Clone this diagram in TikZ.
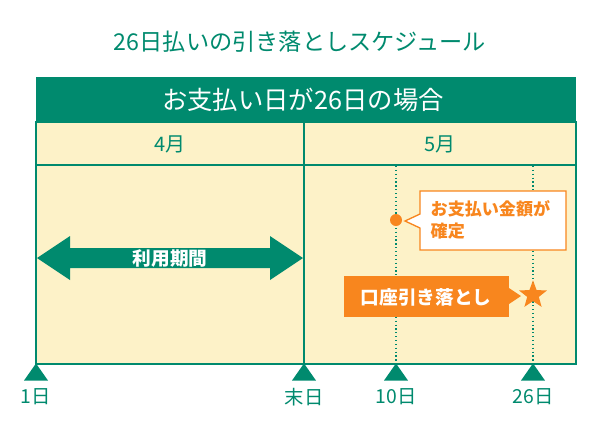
\documentclass[tikz,border=0pt]{standalone}
\usepackage{fontspec}
\setmainfont{Noto Sans CJK JP}
\usetikzlibrary{shapes.geometric,shapes.callouts}
\definecolor{teal}{HTML}{008A6E}
\definecolor{cream}{HTML}{FDF2C8}
\definecolor{orng}{HTML}{F8861E}
\begin{document}
\begin{tikzpicture}[x=0.75pt,y=-0.75pt,
  cell/.style={draw=teal,line width=1.3pt,fill=cream},
  tri/.style={fill=teal,isosceles triangle,shape border rotate=90,isosceles triangle apex angle=70,inner sep=0pt,minimum height=13pt,minimum width=13pt,anchor=south},
  daylbl/.style={text=teal,font=\fontsize{14.5pt}{17pt}\selectfont},
  dotl/.style={teal,dotted,line width=0.9pt}]
\useasboundingbox (0,0) rectangle (600,430);
\node (title) at (300,42) [text=teal,font=\fontsize{17.4pt}{20pt}\selectfont] {26日払いの引き落としスケジュール};
\fill[teal] (36,77) rectangle (576,122);
\node (hdr) at (303,100) [text=white,font=\fontsize{19pt}{22pt}\selectfont] {お支払い日が26日の場合};
\draw[cell] (36,122) rectangle (304,165);
\draw[cell] (304,122) rectangle (576,165);
\draw[cell] (36,165) rectangle (304,364);
\draw[cell] (304,165) rectangle (576,364);
\node (apr) at (170,144) [text=teal,font=\fontsize{15pt}{17pt}\selectfont] {4月};
\node (may) at (440,144) [text=teal,font=\fontsize{15pt}{17pt}\selectfont] {5月};
\draw[dotl] (396,166) -- (396,362);
\draw[dotl] (533,166) -- (533,362);
% double arrow
\fill[teal] (37,258) -- (70,236) -- (70,248) -- (270,248) -- (270,236) -- (303,258) -- (270,280) -- (270,268) -- (70,268) -- (70,280) -- cycle;
\node (use) at (170,258) [text=white,font=\bfseries\fontsize{14pt}{16pt}\selectfont] {利用期間};
% dot & callout
\fill[orng] (396,220) circle (4.5pt);
\draw[orng,fill=white,line width=1pt] (420,191) -- (566,191) -- (566,250) -- (420,250) -- (420,228) -- (405,221) -- (420,214) -- cycle;
\node (fix) at (426,220) [anchor=west,align=left,text=orng,font=\bfseries\fontsize{12.8pt}{16pt}\selectfont] {お支払い金額が\\確定};
% withdraw box
\fill[orng] (344,276) rectangle (509,317);
\fill[orng] (509,288) -- (521,296) -- (509,304) -- cycle;
\node (wd) at (426,297) [text=white,font=\bfseries\fontsize{14pt}{16pt}\selectfont] {口座引き落とし};
\node (star) at (533,295) [star,star points=5,star point ratio=2.4,fill=orng,inner sep=0pt,minimum size=22pt] {};
% triangles
\foreach \x/\n/\t in {36/a/1日,304/b/末日,396/c/10日,533/d/26日}{
  \node[tri] (t\n) at (\x,381) {};
  \node[daylbl] (l\n) at (\x,397) {\t};
}
\end{tikzpicture}
\end{document}
